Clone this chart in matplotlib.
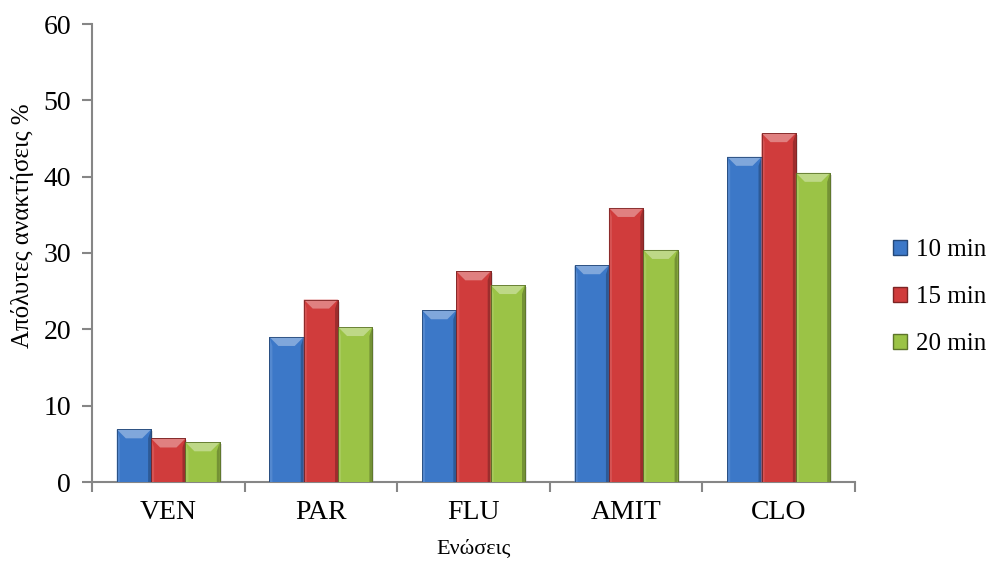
import numpy as np
import matplotlib
matplotlib.use("Agg")
import matplotlib.pyplot as plt
from matplotlib.patches import Polygon, Rectangle, Patch
from matplotlib.colors import to_rgb

plt.rcParams['font.family'] = ['Liberation Serif', 'DejaVu Serif']

compounds = ["VEN", "PAR", "FLU", "AMIT", "CLO"]
series_names = ["10 min", "15 min", "20 min"]
rec_10 = [6.9, 19.0, 22.5, 28.4, 42.6]
rec_15 = [5.7, 23.9, 27.6, 35.9, 45.7]
rec_20 = [5.2, 20.3, 25.8, 30.4, 40.5]

colors = ["#3C78C8", "#D03C3C", "#9BC346"]


def shade(c, f):
    r = np.array(to_rgb(c))
    if f >= 0:
        return tuple(r + (1 - r) * f)
    return tuple(r * (1 + f))


fig = plt.figure(figsize=(9.9, 5.66), dpi=100)
ax = fig.add_axes([92 / 990, 84 / 566, 763 / 990, 458 / 566])

n = len(compounds)
x = np.arange(n)
w = 0.225
ax.set_xlim(-0.5, n - 0.5)
ax.set_ylim(0, 60)

# pixel -> data unit factors, used for the bevel geometry
px_x = (n) / 763.0
px_y = 60 / 458.0

for i, (vals, col) in enumerate(zip([rec_10, rec_15, rec_20], colors)):
    bars = ax.bar(x + (i - 1) * w, vals, width=w, color=col,
                  edgecolor=shade(col, -0.35), linewidth=0.6, zorder=3)
    for b in bars:
        bx, bw, bh = b.get_x(), b.get_width(), b.get_height()
        # soft shadow on the right
        ax.add_patch(Rectangle((bx + 2 * px_x, 0), bw, bh - 2 * px_y,
                               color="#000000", alpha=0.12, lw=0, zorder=2))
        d = min(9 * px_y, bh * 0.4)
        dx = min(9 * px_x, bw * 0.45)
        s = 3 * px_x
        # side faces
        ax.add_patch(Polygon([(bx, 0), (bx + s, 0), (bx + s, bh - d), (bx, bh)],
                             closed=True, color=shade(col, 0.12), lw=0, zorder=4))
        ax.add_patch(Polygon([(bx + bw, 0), (bx + bw - s, 0), (bx + bw - s, bh - d), (bx + bw, bh)],
                             closed=True, color=shade(col, -0.25), lw=0, zorder=4))
        # top bevel face
        ax.add_patch(Polygon([(bx, bh), (bx + bw, bh), (bx + bw - dx, bh - d), (bx + dx, bh - d)],
                             closed=True, color=shade(col, 0.35), lw=0, zorder=4))
        ax.add_patch(Rectangle((bx, 0), bw, bh, fill=False,
                               edgecolor=shade(col, -0.4), lw=0.6, zorder=5))

spine_col = "#868686"
for side in ["top", "right"]:
    ax.spines[side].set_visible(False)
for side in ["left", "bottom"]:
    ax.spines[side].set_color(spine_col)
    ax.spines[side].set_linewidth(1.5)

ax.set_yticks(np.arange(0, 61, 10))
ax.set_xticks(np.arange(-0.5, n, 1.0))
ax.set_xticklabels([])
ax.set_xticks(x, minor=True)
ax.set_xticklabels(compounds, minor=True)
ax.tick_params(axis="x", which="major", direction="out", length=7, width=1.5, color=spine_col)
ax.tick_params(axis="x", which="minor", length=0, labelsize=20, pad=13)
ax.tick_params(axis="y", direction="out", length=7, width=1.5, color=spine_col,
               labelsize=20, pad=8)

ax.set_xlabel("Ενώσεις", fontsize=16, labelpad=10)
ax.set_ylabel("Απόλυτες ανακτήσεις %", fontsize=18)
ax.yaxis.set_label_coords(-0.076, 0.56)

handles = [Patch(facecolor=c, edgecolor=shade(c, -0.4), label=l)
           for c, l in zip(colors, series_names)]
fig.legend(handles=handles, loc="center left", bbox_to_anchor=(893 / 990, (566 - 297) / 566),
           frameon=False, fontsize=18, handlelength=0.55, handleheight=0.55,
           handletextpad=0.35, labelspacing=1.0, borderpad=0, borderaxespad=0)

fig.savefig("out.png", dpi=100)
